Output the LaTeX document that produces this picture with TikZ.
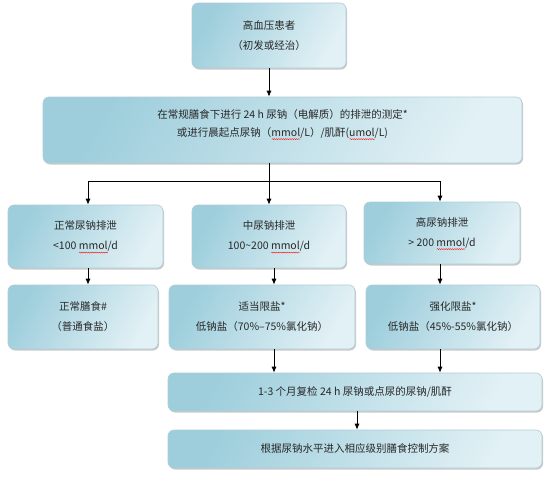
\documentclass[tikz,border=0pt]{standalone}
\usepackage{fontspec}
\setmainfont{Noto Sans CJK SC}
\usetikzlibrary{arrows.meta, shadows, decorations.pathmorphing, positioning}

\definecolor{boxdark}{RGB}{158,206,220}
\definecolor{boxlight}{RGB}{226,241,245}
\definecolor{boxline}{RGB}{175,205,215}
\definecolor{txt}{RGB}{40,40,40}

\newcommand\redwave[1]{\setbox0=\hbox{#1}\makebox[0pt][l]{\smash{\tikz[baseline=0pt, sharp corners]\draw[red, sharp corners, line width=0.35pt, decorate, decoration={snake, amplitude=0.5pt, segment length=2.2pt}] (0pt,-2.6pt) -- (\the\wd0,-2.6pt);}}\box0}

\tikzset{
  flowbox/.style={rectangle, rounded corners=6pt, draw=boxline, line width=0.6pt,
    left color=boxdark, right color=boxlight, shading angle=60,
    drop shadow={shadow xshift=1pt, shadow yshift=-1.5pt, opacity=0.35, fill=black!60},
    align=center, text=txt, font=\fontsize{10.5}{20}\selectfont, inner sep=2pt},
  flowarrow/.style={-{Latex[length=6pt,width=5pt]}, line width=0.8pt},
  flowline/.style={line width=0.8pt}
}

\begin{document}
\begin{tikzpicture}[x=1pt,y=-1pt]
\useasboundingbox (0.000000,0.000000) rectangle (550.000000,479.000000);
\node (start) at (269.000000,35.500000) [flowbox, minimum width=154pt, minimum height=65pt] {高血压患者\\（初发或经治）};
\node (test) at (282.500000,130.000000) [flowbox, minimum width=479pt, minimum height=66pt, font=\fontsize{10.5}{18}\selectfont] {在常规膳食下进行 24 h 尿钠（电解质）的排泄的测定*\\或进行晨起点尿钠（\redwave{mmol}/L）/肌酐(\redwave{umol}/L)\\[-4pt]};
\node (lowna) at (85.500000,236.500000) [flowbox, minimum width=155pt, minimum height=63pt] {正常尿钠排泄\\<100 \redwave{mmol}/d};
\node (midna) at (269.000000,236.500000) [flowbox, minimum width=154pt, minimum height=63pt] {中尿钠排泄\\100\textasciitilde200 \redwave{mmol}/d};
\node (highna) at (442.000000,233.000000) [flowbox, minimum width=156pt, minimum height=62pt] {高尿钠排泄\\> 200 \redwave{mmol}/d};
\node (normal) at (83.000000,317.000000) [flowbox, minimum width=150pt, minimum height=64pt] {正常膳食\#\\（普通食盐）};
\node (modest) at (262.000000,317.000000) [flowbox, minimum width=186pt, minimum height=64pt] {适当限盐*\\低钠盐（70\%–75\%氯化钠）};
\node (strict) at (453.000000,317.000000) [flowbox, minimum width=174pt, minimum height=64pt] {强化限盐*\\低钠盐（45\%-55\%氯化钠）};
\node (recheck) at (355.000000,392.000000) [flowbox, minimum width=374pt, minimum height=38pt] {1-3 个月复检 24 h 尿钠或点尿的尿钠/肌酐};
\node (plan) at (355.000000,449.000000) [flowbox, minimum width=374pt, minimum height=38pt] {根据尿钠水平进入相应级别膳食控制方案};
% column lines
\coordinate (split) at (269.000000,181.000000);
\coordinate (colA) at (88.000000,0.000000);
\coordinate (colB) at (274.000000,0.000000);
\coordinate (colC) at (440.000000,0.000000);
\coordinate (colD) at (357.000000,0.000000);
\draw [flowarrow] (start) -- (start.south |- test.north);
\draw [flowarrow] (test.south -| split) -- (midna.north -| split);
\draw [flowline] (colA |- split) -- (colC |- split);
\draw [flowarrow] (colA |- split) -- (colA |- lowna.north);
\draw [flowarrow] (colC |- split) -- (colC |- highna.north);
\draw [flowarrow] (colA |- lowna.south) -- (colA |- normal.north);
\draw [flowarrow] (colB |- midna.south) -- (colB |- modest.north);
\draw [flowarrow] (colC |- highna.south) -- (colC |- strict.north);
\draw [flowarrow] (colB |- modest.south) -- (colB |- recheck.north);
\draw [flowarrow] (colC |- strict.south) -- (colC |- recheck.north);
\draw [flowarrow] (colD |- recheck.south) -- (colD |- plan.north);
\end{tikzpicture}
\end{document}
